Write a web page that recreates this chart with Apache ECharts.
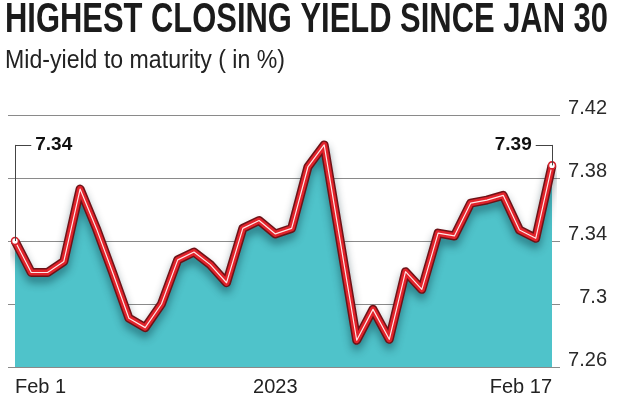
<!DOCTYPE html>
<html><head><meta charset="utf-8">
<script src="https://cdn.jsdelivr.net/npm/echarts@6/dist/echarts.min.js"></script>
<style>html,body{margin:0;padding:0;background:#fff}#c{width:620px;height:400px}</style>
</head><body><div id="c"></div>
<script>
const titleText = 'HIGHEST CLOSING YIELD SINCE JAN 30';
const subtitleText = 'Mid-yield to maturity ( in %)';
const xLabels = ['Feb 1','','','','','','','','','','','','','','','','2023','','','','','','','','','','','','','','','','','Feb 17'];
const yields = [7.340,7.320,7.320,7.327,7.373,7.348,7.320,7.291,7.285,7.300,
                7.328,7.333,7.325,7.3135,7.348,7.353,7.3445,7.348,7.387,7.401,
                7.339,7.277,7.2966,7.2776,7.3205,7.3093,7.345,7.3432,7.364,7.366,
                7.369,7.347,7.3417,7.388];
const yTicks = [7.26,7.30,7.34,7.38,7.42];
const leaderLevel = 7.401;

const FONT = "'Liberation Sans',Arial,sans-serif";
const ctx = document.createElement('canvas').getContext('2d');
function fitScale(text, font, target){ ctx.font = font; return target / ctx.measureText(text).width; }
const titleFont = 'bold 42px ' + FONT;
const subFont = '26px ' + FONT;
const titleScale = fitScale(titleText, titleFont, 603);
const subScale = fitScale(subtitleText, subFont, 280);

const n = yields.length;
const endpointStyle = {symbol:'circle', symbolSize:7, itemStyle:{color:'#ffffff', borderColor:'#d3202a', borderWidth:1.6}};
const topData = yields.map((v,i)=> (i===0||i===n-1) ? Object.assign({value:v}, endpointStyle) : {value:v, symbol:'none'});

const labelStyle = {show:true, position:'end', distance:4, fontFamily:FONT, fontWeight:'bold', fontSize:19, color:'#111'};

const chart = echarts.init(document.getElementById('c'), null, {renderer:'canvas'});
chart.setOption({
  animation:false,
  backgroundColor:'#ffffff',
  graphic:[
    {type:'text', x:5, y:20, scaleX:titleScale, style:{text:titleText, font:titleFont, fill:'#1b1b1b', verticalAlign:'middle'}},
    {type:'text', x:5, y:61, scaleX:subScale, style:{text:subtitleText, font:subFont, fill:'#222', verticalAlign:'middle'}}
  ],
  grid:[
    {left:8, right:60, top:115, bottom:33},
    {left:15, right:68, top:115, bottom:33}
  ],
  xAxis:[
    {gridIndex:0, type:'value', min:0, max:1, show:false},
    {gridIndex:1, type:'category', data:xLabels, boundaryGap:false,
     axisLine:{show:false}, axisTick:{show:false}, splitLine:{show:false},
     axisLabel:{interval:(i,v)=>v!=='', margin:10, fontFamily:FONT, fontSize:20, color:'#222',
                alignMinLabel:'left', alignMaxLabel:'right', showMinLabel:true, showMaxLabel:true}}
  ],
  yAxis:[
    {gridIndex:0, type:'value', position:'right', min:yTicks[0], max:yTicks[yTicks.length-1], interval:0.04,
     axisLine:{show:false}, axisTick:{show:false},
     splitLine:{show:true, lineStyle:{color:'#8a8a8a', width:1}},
     axisLabel:{margin:47, align:'right', verticalAlign:'bottom', lineHeight:14, fontFamily:FONT, fontSize:20, color:'#2a2a2a',
                formatter:v=>{const t=yTicks.find(x=>Math.abs(x-v)<1e-6); return t===undefined?'':String(+t.toFixed(2));}}},
    {gridIndex:1, type:'value', min:yTicks[0], max:yTicks[yTicks.length-1], interval:0.04, show:false, splitLine:{show:false}}
  ],
  series:[
    {type:'line', xAxisIndex:1, yAxisIndex:1, data:yields, symbol:'none', z:1,
     lineStyle:{width:0}, areaStyle:{color:'#4fc3ca', opacity:1, origin:'start'}},
    {type:'line', xAxisIndex:1, yAxisIndex:1, data:yields, symbol:'none', z:2,
     lineStyle:{width:9, color:'#6e1217', join:'round', shadowColor:'rgba(0,40,50,0.45)', shadowBlur:8, shadowOffsetY:6}},
    {type:'line', xAxisIndex:1, yAxisIndex:1, data:yields, symbol:'none', z:3,
     lineStyle:{width:6, color:'#e2232b', join:'round'}},
    {type:'line', xAxisIndex:1, yAxisIndex:1, data:topData, symbol:'none', showSymbol:true, z:4,
     lineStyle:{width:1.2, color:'#ffe6e6', join:'round'},
     markLine:{silent:true, symbol:['none','none'], animation:false,
       lineStyle:{color:'#444', width:1, type:'solid'}, label:{show:false},
       data:[
         [{coord:[0, yields[0]]},{coord:[0, leaderLevel]}],
         [{coord:[0, leaderLevel]},{coord:[1, leaderLevel], label:Object.assign({formatter:yields[0].toFixed(2)}, labelStyle)}],
         [{coord:[n-1, yields[n-1]]},{coord:[n-1, leaderLevel]}],
         [{coord:[n-1, leaderLevel]},{coord:[n-2, leaderLevel], label:Object.assign({formatter:yields[n-1].toFixed(2)}, labelStyle)}]
       ]}}
  ]
});
</script></body></html>
